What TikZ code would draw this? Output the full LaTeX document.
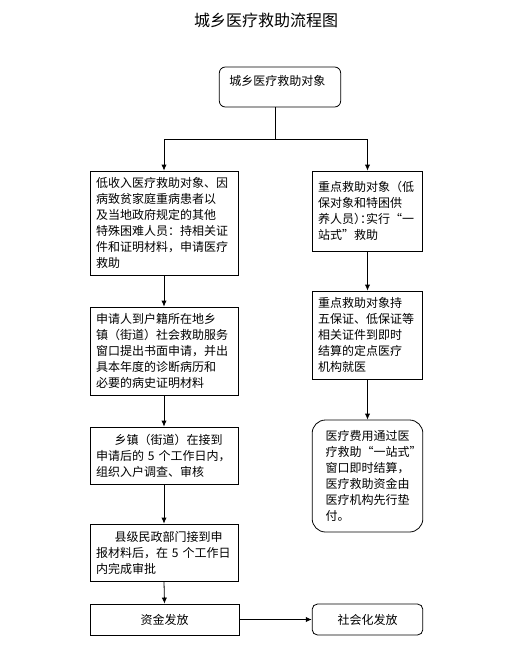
\documentclass[tikz,border=0pt]{standalone}
\usepackage{fontspec}
\usepackage{xcolor}
\usetikzlibrary{arrows.meta, positioning}
\newfontfamily\cjk{Noto Sans CJK SC}
\newcommand{\halfpunct}[1]{{\addfontfeature{RawFeature=+halt}#1}}
\definecolor{FlowBlack}{HTML}{000000}
\definecolor{FlowWhite}{HTML}{ffffff}
\tikzset{
    % Node styles
    startbox/.style={
        rectangle,
        rounded corners=4.5pt,
        draw=FlowBlack,
        fill=FlowWhite,
        line width=0.6pt,
        text width=76pt,
        inner xsep=7.5pt,
        inner ysep=2pt,
        text height=12pt,
        text depth=14pt,
        align=left,
        font=\cjk\fontsize{9}{12}\selectfont
    },
    stepbox/.style={
        rectangle,
        draw=FlowBlack,
        fill=FlowWhite,
        line width=0.6pt,
        text width=102pt,
        inner xsep=4.5pt,
        inner ysep=1pt,
        align=left,
        font=\cjk\fontsize{9}{12}\selectfont
    },
    sidebox/.style={
        stepbox,
        text width=74pt,
        inner xsep=4.5pt
    },
    roundbox/.style={
        sidebox,
        rounded corners=10pt,
        text width=63pt,
        minimum width=83pt
    },
    endbox/.style={
        rectangle,
        draw=FlowBlack,
        fill=FlowWhite,
        line width=0.6pt,
        minimum width=111.75pt,
        minimum height=23.25pt,
        align=center,
        font=\cjk\fontsize{9}{12}\selectfont
    },
    % Arrow styles
    flowarrow/.style={
        -{Latex[length=4.5pt,width=4pt]},
        line width=0.6pt,
        FlowBlack
    },
    flowline/.style={
        line width=0.6pt,
        FlowBlack
    }
}
\begin{document}
\begin{tikzpicture}[x=0.75pt, y=-0.75pt]
    \useasboundingbox (0,0) rectangle (518,650);

    % Title
    \node[font=\cjk\fontsize{12}{14}\selectfont] (title) at (266,20) {城乡医疗救助流程图};

    % Start
    \node[startbox] (target) at (280,87) {城乡医疗救助对象};
    \coordinate (split) at (275,139);

    % Left column
    \node[stepbox,minimum height=78pt] (apply) at (164,223) {低收入医疗救助对象、因\\病致贫家庭重病患者以\\及当地政府规定的其他\\特殊困难人员：持相关证\\件和证明材料，申请医疗\\救助};
    \node[stepbox,minimum height=66pt] (window) at (164,351) {申请人到户籍所在地乡\\镇（街道）社会救助服务\\窗口提出书面申请，并出\\具本年度的诊断病历和\\必要的病史证明材料};
    \node[stepbox,minimum height=42.75pt] (town) at (164,455.5) {\hspace{14pt}乡镇（街道）在接到\\\mbox{申请后的~5~个工作日内，}\\组织入户调查、审核};
    \node[stepbox,minimum height=42.75pt] (county) at (164,552.5) {\hspace{14pt}县级民政部门接到申\\\mbox{报材料后，在~5~个工作日}\\内完成审批};
    \node[endbox] (fund) at (164.5,619.5) {资金发放};

    % Right column
    \node[sidebox,minimum height=60pt] (key) at (367.5,211) {重点救助对象（低\\保对象和特困供\\\mbox{养人员\halfpunct{）：}实行“一}\\站式”救助};
    \node[sidebox,minimum height=66pt] (hospital) at (367.5,335) {重点救助对象持\\五保证、低保证等\\相关证件到即时\\结算的定点医疗\\机构就医};
    \node[roundbox,minimum height=84pt] (settle) at (367.5,476) {医疗费用通过医\\疗救助“一站式”\\窗口即时结算，\\医疗救助资金由\\医疗机构先行垫\\付。};
    \node[endbox,rounded corners=4pt,minimum width=83pt] (social) at (367.5,619.5) {社会化发放};

    % Arrows
    \draw[flowline] (target.south -| split) -- (split);
    \draw[flowarrow] (split) -| (apply.north);
    \draw[flowarrow] (split) -| (key.north);
    \draw[flowarrow] (apply.south) -- (window.north);
    \draw[flowarrow] (window.south) -- (town.north);
    \draw[flowarrow] (town.south) -- (county.north);
    \draw[flowarrow] (county.south) -- (fund.north);
    \draw[flowarrow] (key.south) -- (hospital.north);
    \draw[flowarrow] (hospital.south) -- (settle.north);
    \draw[flowarrow] (fund.east) -- (social.west);
\end{tikzpicture}
\end{document}
